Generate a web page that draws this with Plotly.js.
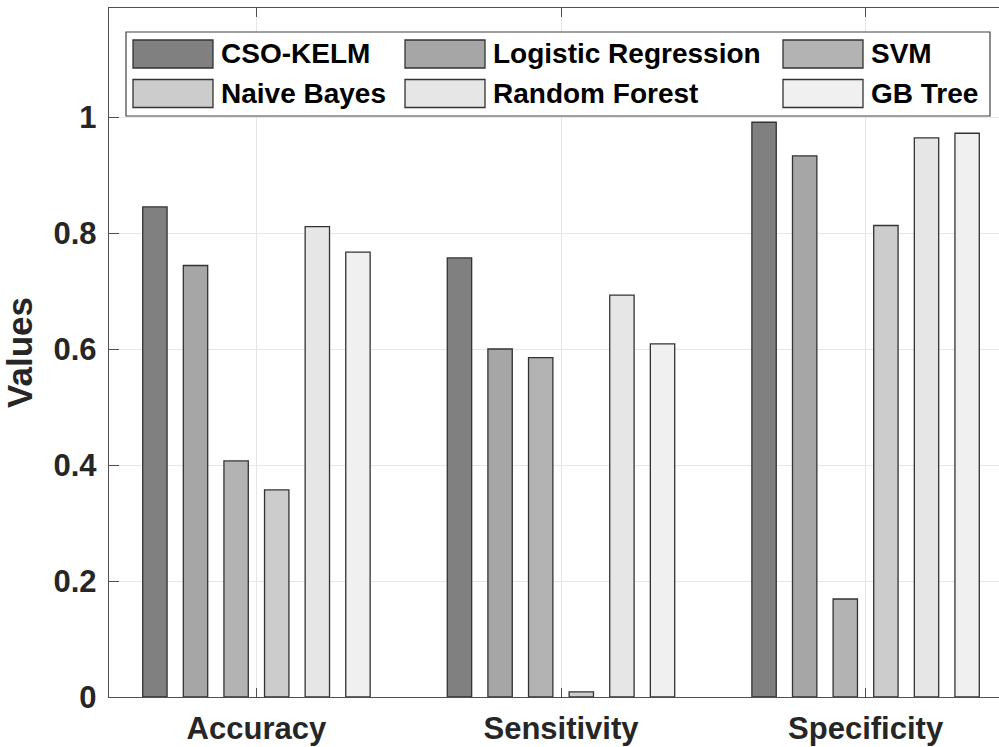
<!DOCTYPE html>
<html>
<head>
<meta charset="utf-8">
<script src="https://cdn.plot.ly/plotly-3.0.1.min.js"></script>
<style>html,body{margin:0;padding:0;background:#fff;}#chart{width:999px;height:747px;}</style>
</head>
<body>
<div id="chart"></div>
<script>
// ---- data ----
const categories = ["Accuracy", "Sensitivity", "Specificity"];
const seriesNames = ["CSO-KELM", "Logistic Regression", "SVM", "Naive Bayes", "Random Forest", "GB Tree"];
const csoKelm  = [0.845, 0.757, 0.991];
const logReg   = [0.744, 0.600, 0.933];
const svm      = [0.407, 0.585, 0.169];
const naiveBay = [0.357, 0.009, 0.813];
const randFor  = [0.811, 0.693, 0.964];
const gbTree   = [0.767, 0.609, 0.972];
const yTickVals = [0, 0.2, 0.4, 0.6, 0.8, 1];
const yTickText = ["0", "0.2", "0.4", "0.6", "0.8", "1"];

// ---- styles ----
const seriesValues = [csoKelm, logReg, svm, naiveBay, randFor, gbTree];
const colors = ["#808080", "#a6a6a6", "#b3b3b3", "#cccccc", "#e6e6e6", "#f0f0f0"];
const edge = "#333333";
const FONT = "Liberation Sans, Arial, Helvetica, sans-serif";
const W = 999, H = 747;
const M = {l: 109, r: 0, t: 8, b: 50};
const pw = W - M.l - M.r, ph = H - M.t - M.b;
const px2x = p => (p - M.l) / pw;
const px2y = p => (H - M.b - p) / ph;

const traces = seriesNames.map((n, i) => ({
  type: "bar",
  name: n,
  x: categories,
  y: seriesValues[i],
  marker: {color: colors[i], line: {color: edge, width: 1.3}},
  showlegend: false,
  hoverinfo: "x+y+name"
}));

// custom legend built from the series names / colours
const shapes = [];
const annotations = [];
shapes.push({type: "rect", xref: "paper", yref: "paper",
  x0: px2x(126), x1: px2x(990), y0: px2y(116), y1: px2y(32),
  line: {color: "#404040", width: 1.2}, fillcolor: "#ffffff", layer: "above"});
const colSwatchX = [133, 405, 783];
const rowCenterY = [54, 93.5];
seriesNames.forEach((n, i) => {
  const c = i % 3, r = Math.floor(i / 3);
  const sx = colSwatchX[c], cy = rowCenterY[r];
  shapes.push({type: "rect", xref: "paper", yref: "paper",
    x0: px2x(sx), x1: px2x(sx + 80), y0: px2y(cy + 14), y1: px2y(cy - 14),
    fillcolor: colors[i], line: {color: edge, width: 1.3}, layer: "above"});
  annotations.push({xref: "paper", yref: "paper", x: px2x(sx + 86), y: px2y(cy),
    xanchor: "left", yanchor: "middle", showarrow: false, text: n,
    font: {family: FONT, size: 28, color: "#000000", weight: "bold"}});
});

const layout = {
  width: W, height: H,
  margin: M,
  paper_bgcolor: "#ffffff", plot_bgcolor: "#ffffff",
  barmode: "group",
  bargap: 0.2,
  bargroupgap: 0.4,
  font: {family: FONT, color: "#262626"},
  xaxis: {
    type: "category",
    range: [-0.484, 2.438],
    showline: true, linecolor: "#505050", linewidth: 1.2, mirror: "ticks",
    ticks: "inside", ticklen: 9, tickcolor: "#505050",
    showgrid: true, gridcolor: "#e6e6e6", gridwidth: 1,
    tickfont: {family: FONT, size: 31, color: "#262626", weight: "bold"},
    ticklabelstandoff: 4,
    zeroline: false, fixedrange: true
  },
  yaxis: {
    range: [0, 1.188],
    tickvals: yTickVals, ticktext: yTickText,
    showline: true, linecolor: "#505050", linewidth: 1.2, mirror: false,
    ticks: "inside", ticklen: 10, tickcolor: "#505050",
    showgrid: true, gridcolor: "#e6e6e6", gridwidth: 1,
    zeroline: false,
    tickfont: {family: FONT, size: 31, color: "#262626", weight: "bold"},
    ticklabelstandoff: 5,
    title: {text: "Values", standoff: 10, font: {family: FONT, size: 35, color: "#262626", weight: "bold"}},
    fixedrange: true
  },
  shapes: shapes,
  annotations: annotations
};

Plotly.newPlot("chart", traces, layout, {displayModeBar: false, staticPlot: true});
</script>
</body>
</html>
